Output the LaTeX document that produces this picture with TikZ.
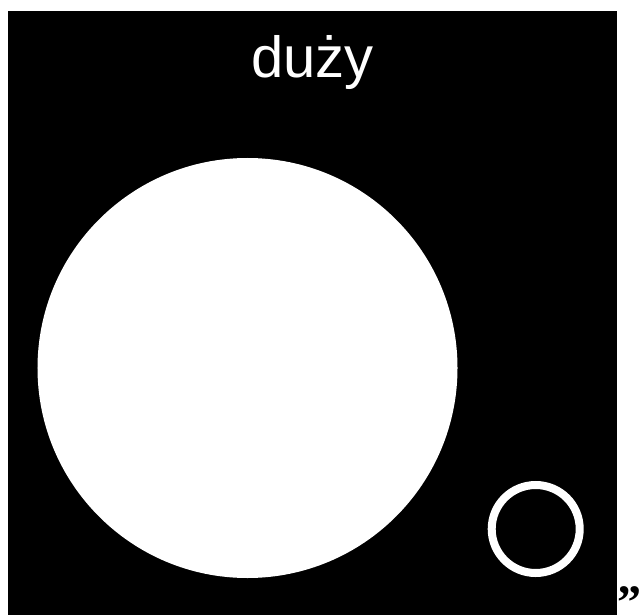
\documentclass[tikz,border=0pt]{standalone}
\usepackage{fontspec}
\setmainfont{Liberation Sans}
\newfontfamily\quotefont{Liberation Serif}
\usetikzlibrary{positioning}
\tikzset{panel/.style={fill=black,draw=none}, disc/.style={circle,fill=white,draw=none,inner sep=0pt,minimum size=420bp}, ring/.style={circle,draw=white,line width=8bp,inner sep=0pt,minimum size=88bp}, caption/.style={text=white,inner sep=0pt,font=\fontsize{58bp}{60bp}\selectfont}, quotemark/.style={inner sep=0pt,font=\quotefont\bfseries\fontsize{48bp}{50bp}\selectfont}}

\begin{document}
\begin{tikzpicture}[x=1bp,y=-1bp]
\useasboundingbox (0,0) rectangle (639,615);
\clip (0,0) rectangle (639,615);
\fill[panel] (8,11) rectangle (617,615);
\node[caption,anchor=base] (title) at (312.5,78) {duży};
\node[disc] (big) at (247.5,368) {};
\node[ring] (small) at (535.7,529) {};
\node[quotemark,anchor=north west] (closing) at (617,586) {”};
\node[quotemark,anchor=south west] (opening) at (8,-12) {„};
\end{tikzpicture}
\end{document}
